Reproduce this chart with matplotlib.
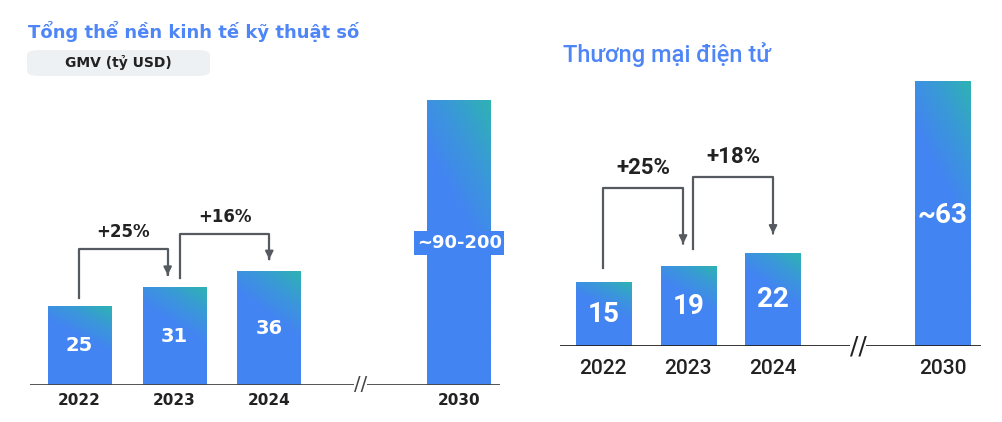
import numpy as np
import matplotlib.pyplot as plt
from matplotlib.colors import LinearSegmentedColormap
from matplotlib.patches import FancyBboxPatch

# data
years = ['2022', '2023', '2024', '2030']
pos = [0, 1, 2, 4]
gmv_total = [25, 31, 36, 90]          # 2030 drawn at lower end of ~90-200
gmv_labels = ['25', '31', '36', '~90-200']
growth_total = ['+25%', '+16%']
ecom = [15, 19, 22, 63]
ecom_labels = ['15', '19', '22', '~63']
growth_ecom = ['+25%', '+18%']

BLUE = '#4384f3'
TITLE_BLUE = '#4f86f7'
cmap = LinearSegmentedColormap.from_list('g', [BLUE, BLUE, '#3a98d8', '#2eb2b4'])

gx, gy = np.meshgrid(np.linspace(0, 1, 50), np.linspace(0, 1, 100))
grad = np.clip((gy * 0.85 + gx * 0.35 - 0.45) / 0.75, 0, 1)


def grad_bar(ax, x, h, w):
    ax.imshow(grad, extent=(x - w / 2, x + w / 2, 0, h), origin='lower',
              cmap=cmap, vmin=0, vmax=1, aspect='auto', zorder=2)


def bracket(ax, x0, y0, ytop, x1, ytip, label, dy, fs, font):
    ax.plot([x0, x0, x1, x1], [y0, ytop, ytop, ytip + dy], color='#555a60', lw=1.6, zorder=3)
    ax.annotate('', xy=(x1, ytip), xytext=(x1, ytip + dy * 1.5),
                arrowprops=dict(arrowstyle='-|>', color='#555a60', lw=1.4, mutation_scale=12))
    ax.text((x0 + x1) / 2, ytop + dy * 2.2, label, ha='center', va='bottom', fontsize=fs,
            fontweight='bold', color='#222222', family=font)


fig = plt.figure(figsize=(10.02, 4.22), dpi=100)

# ---------------- left panel
ax = fig.add_axes([30 / 1002, 37 / 422, 470 / 1002, 300 / 422])
w = 0.67
for p, v, lab in zip(pos, gmv_total, gmv_labels):
    grad_bar(ax, p, v, w)
    if lab.startswith('~'):
        ax.text(p, 45, lab, ha='center', va='center', color='white', fontsize=13, fontweight='bold',
                bbox=dict(boxstyle='square,pad=0.15', fc=BLUE, ec='none'), zorder=4)
    else:
        ax.text(p, v / 2, lab, ha='center', va='center', color='white', fontsize=14, fontweight='bold', zorder=4)
ax.set_xlim(-0.52, 4.43)
ax.set_ylim(0, 95)
bracket(ax, 0, 27.5, 43, 0.93, 33.9, growth_total[0], 1.2, 12, 'DejaVu Sans')
bracket(ax, 1.06, 33.9, 47.8, 2.0, 38.9, growth_total[1], 1.2, 12, 'DejaVu Sans')
ax.axhline(0, color='#444444', lw=2, zorder=5)
ax.text(2.96, 0, '//', ha='center', va='center', fontsize=14, color='#444444',
        bbox=dict(fc='white', ec='none', pad=0), zorder=6)
ax.set_xticks(pos, years, fontsize=11, fontweight='bold', color='#222222')
ax.tick_params(length=0, pad=6)
ax.set_yticks([])
for s in ax.spines.values():
    s.set_visible(False)

fig.text(28 / 1002, 1 - 31 / 422, 'Tổng thể nền kinh tế kỹ thuật số', fontsize=13, fontweight='bold',
         color=TITLE_BLUE, va='center')
fig.patches.append(FancyBboxPatch((27 / 1002, 1 - 76 / 422), 183 / 1002, 26 / 422,
                                  boxstyle='round,pad=0,rounding_size=0.012', fc='#eef1f3', ec='none',
                                  transform=fig.transFigure, figure=fig))
fig.text(118 / 1002, 1 - 63 / 422, 'GMV (tỷ USD)', fontsize=10, fontweight='bold',
         color='#222222', ha='center', va='center')

# ---------------- right panel
RF = 'Roboto'
ax2 = fig.add_axes([560 / 1002, 76 / 422, 421 / 1002, 286 / 422])
w2 = 0.65
for p, v, lab in zip(pos, ecom, ecom_labels):
    grad_bar(ax2, p, v, w2)
    yy = 31 if lab.startswith('~') else v / 2
    ax2.text(p, yy, lab, ha='center', va='center', color='white', fontsize=20, fontweight='bold',
             family=RF, zorder=4)
ax2.set_xlim(-0.51, 4.45)
ax2.set_ylim(0, 68)
bracket(ax2, 0, 18.6, 37.6, 0.94, 23.6, growth_ecom[0], 1.0, 16, RF)
bracket(ax2, 1.06, 23.1, 40.2, 2.0, 26.0, growth_ecom[1], 1.0, 16, RF)
ax2.axhline(0, color='#222222', lw=2, zorder=5)
ax2.text(3.0, 0, '//', ha='center', va='center', fontsize=18, color='#222222',
         bbox=dict(fc='white', ec='none', pad=0), zorder=6)
ax2.set_xticks(pos, years, fontsize=15, color='#222222', family=RF, fontweight='medium')
ax2.tick_params(length=0, pad=9)
ax2.set_yticks([])
for s in ax2.spines.values():
    s.set_visible(False)

fig.text(563 / 1002, 1 - 55 / 422, 'Thương mại điện tử', fontsize=17, fontweight='medium',
         color=TITLE_BLUE, va='center', family=RF)

fig.savefig('out.png', dpi=100)
